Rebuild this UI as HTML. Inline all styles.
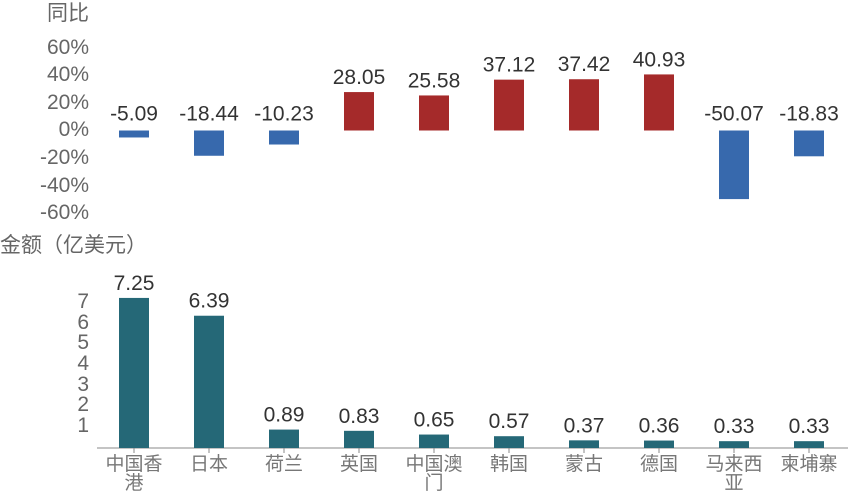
<!DOCTYPE html>
<html><head><meta charset="utf-8"><style>
body{margin:0;background:#fff;width:848px;height:493px;overflow:hidden}
text{font-family:"Liberation Sans","Noto Sans CJK SC",sans-serif}
</style></head><body>
<svg width="848" height="493" xmlns="http://www.w3.org/2000/svg">
<g font-size="21" fill="#666" text-anchor="end">
<text x="89" y="20">同比</text>
<text x="89" y="54">60%</text>
<text x="89" y="81">40%</text>
<text x="89" y="109">20%</text>
<text x="89" y="136">0%</text>
<text x="89" y="164">-20%</text>
<text x="89" y="192">-40%</text>
<text x="89" y="219">-60%</text>
</g>
<text x="0" y="252" font-size="21" fill="#666">金额（亿美元）</text>
<g font-size="21" fill="#666" text-anchor="end">
<text x="89" y="308">7</text>
<text x="89" y="329">6</text>
<text x="89" y="349">5</text>
<text x="89" y="370">4</text>
<text x="89" y="391">3</text>
<text x="89" y="411">2</text>
<text x="89" y="432">1</text>
</g>
<line x1="97" y1="448" x2="848" y2="448" stroke="#888" stroke-width="1"/>
</svg>
<script>
var ns="http://www.w3.org/2000/svg";
var yoy=[-5.09,-18.44,-10.23,28.05,25.58,37.12,37.42,40.93,-50.07,-18.83];
var amt=[7.25,6.39,0.89,0.83,0.65,0.57,0.37,0.36,0.33,0.33];
var cats=[["中国香","港"],["日本"],["荷兰"],["英国"],["中国澳","门"],["韩国"],["蒙古"],["德国"],["马来西","亚"],["柬埔寨"]];
var svg=document.querySelector("svg");
function el(t,a,txt){var e=document.createElementNS(ns,t);for(var k in a)e.setAttribute(k,a[k]);if(txt)e.textContent=txt;svg.appendChild(e);return e;}
for(var i=0;i<10;i++){
 var cx=134+75*i,z=130.5,s=1.37;
 var v=yoy[i],h=Math.abs(v)*s;
 var y=v>=0?z-h:z;
 el("rect",{x:cx-15,y:y,width:30,height:h,fill:v>=0?"#a52a2a":"#3769ad"});
 var ty=v>=0?z-h-8:z-10;
 el("text",{x:cx,y:ty,"font-size":"21","text-anchor":"middle",fill:"#333"},v.toFixed(2));
 var bh=amt[i]*20.7;
 el("rect",{x:cx-15,y:448-bh,width:30,height:bh,fill:"#256877"});
 el("text",{x:cx,y:448-bh-8,"font-size":"21","text-anchor":"middle",fill:"#333"},amt[i].toFixed(2));
 el("line",{x1:cx,y1:448,x2:cx,y2:453,stroke:"#888"});
 for(var j=0;j<cats[i].length;j++)
  el("text",{x:cx,y:470+j*19,"font-size":"19","text-anchor":"middle",fill:"#777"},cats[i][j]);
}
</script>
</body></html>
